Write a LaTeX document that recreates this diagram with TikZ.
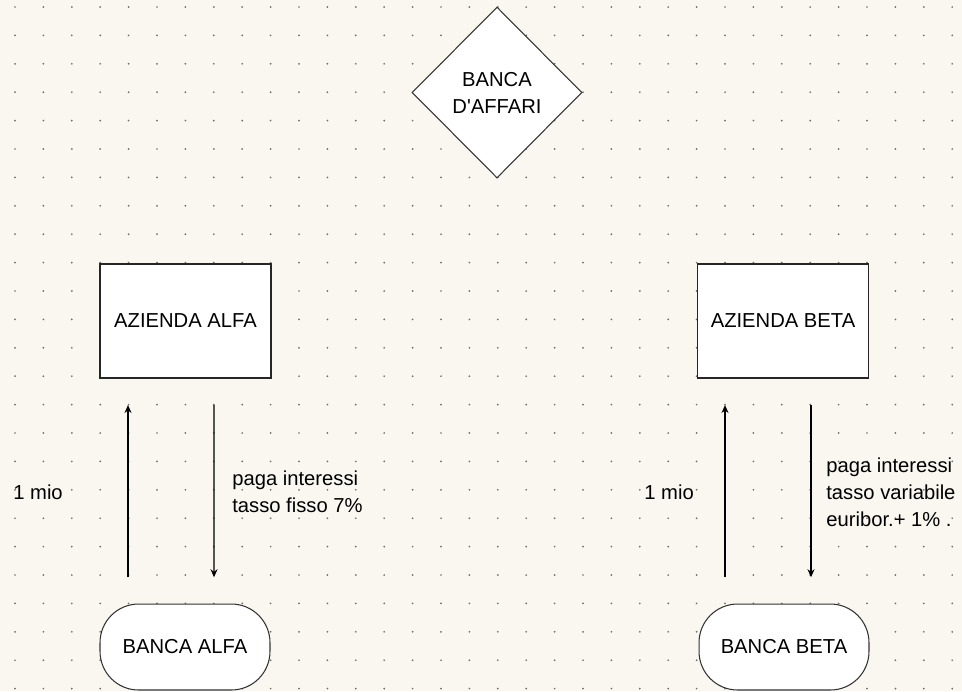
\documentclass[tikz,border=0pt]{standalone}
\usepackage{fontspec}
\setmainfont{Liberation Sans}
\usetikzlibrary{shapes, arrows.meta, positioning}
\definecolor{paper}{RGB}{249,247,240}
\definecolor{dotgrey}{RGB}{110,110,110}

\begin{document}
\begin{tikzpicture}[x=0.02cm, y=0.02cm, font=\fontsize{11.5}{15.3}\selectfont]
\tikzstyle{firm} = [rectangle, draw=black!85, line width=0.85pt, fill=white, minimum width=3.42cm, minimum height=2.28cm]
\tikzstyle{bank} = [rectangle, rounded corners=22pt, draw=black!80, line width=0.6pt, fill=white, minimum width=3.4cm, minimum height=1.72cm]
\tikzstyle{broker} = [diamond, draw=black!80, line width=0.6pt, fill=white, minimum width=3.4cm, minimum height=3.42cm, inner sep=0pt, align=center]
\tikzstyle{note} = [anchor=west, inner sep=0pt, align=left]
\tikzstyle{arrow} = [line width=0.6pt, -{Stealth[length=4.5pt, width=4pt]}, shorten >=15pt, shorten <=15pt]

% paper and dot grid
\useasboundingbox (0,0) rectangle (962,-691);
\fill[paper] (0,0) rectangle (962,-691);
\foreach \i in {0,...,33}
  \foreach \j in {0,...,24}
    \fill[dotgrey] (15+28.4*\i, -7-28.4*\j) circle (0.55pt);

\node[broker] (bancaaffari) at (497,-92.5) {BANCA\\D\textquotesingle AFFARI};
\node[firm] (aziendaalfa) at (185.5,-321) {AZIENDA ALFA};
\node[firm] (aziendabeta) at (783,-321) {AZIENDA BETA};
\node[bank] (bancaalfa) at (185,-647) {BANCA ALFA};
\node[bank] (bancabeta) at (784,-647) {BANCA BETA};

\node[note] (mioalfa) at (13,-492) {1 mio};
\node[note] (mioabeta) at (644,-492) {1 mio};
\node[note] (interessialfa) at (232,-491.5) {paga interessi\\tasso fisso 7\%};
\node[note] (interessibeta) at (826,-492) {paga interessi\\tasso variabile\\euribor.+ 1\% .};

\draw [arrow] ([xshift=-57*0.02cm]bancaalfa.north) -- ([xshift=-57.5*0.02cm]aziendaalfa.south);
\draw [arrow] ([xshift=28.5*0.02cm]aziendaalfa.south) -- ([xshift=29*0.02cm]bancaalfa.north);
\draw [arrow] ([xshift=-59*0.02cm]bancabeta.north) -- ([xshift=-58*0.02cm]aziendabeta.south);
\draw [arrow] ([xshift=28*0.02cm]aziendabeta.south) -- ([xshift=27*0.02cm]bancabeta.north);
\end{tikzpicture}
\end{document}
